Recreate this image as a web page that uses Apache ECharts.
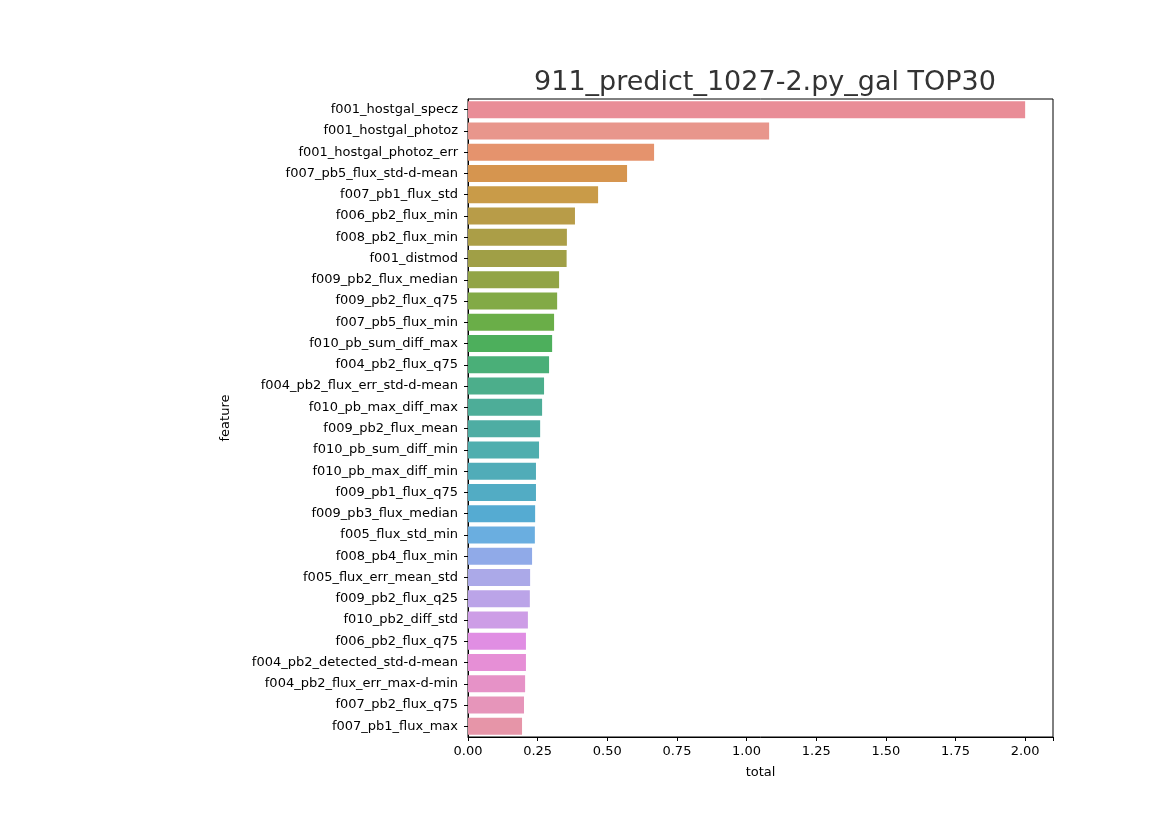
<!DOCTYPE html>
<html>
<head>
<meta charset="utf-8">
<script src="https://cdn.jsdelivr.net/npm/echarts@6/dist/echarts.min.js"></script>
<style>
  html, body { margin: 0; padding: 0; background: #fff; }
  #chart { width: 1170px; height: 827px; }
</style>
</head>
<body>
<div id="chart"></div>
<script>
const features = [
  'f001_hostgal_specz', 'f001_hostgal_photoz', 'f001_hostgal_photoz_err', 'f007_pb5_flux_std-d-mean',
  'f007_pb1_flux_std', 'f006_pb2_flux_min', 'f008_pb2_flux_min', 'f001_distmod',
  'f009_pb2_flux_median', 'f009_pb2_flux_q75', 'f007_pb5_flux_min', 'f010_pb_sum_diff_max',
  'f004_pb2_flux_q75', 'f004_pb2_flux_err_std-d-mean', 'f010_pb_max_diff_max', 'f009_pb2_flux_mean',
  'f010_pb_sum_diff_min', 'f010_pb_max_diff_min', 'f009_pb1_flux_q75', 'f009_pb3_flux_median',
  'f005_flux_std_min', 'f008_pb4_flux_min', 'f005_flux_err_mean_std', 'f009_pb2_flux_q25',
  'f010_pb2_diff_std', 'f006_pb2_flux_q75', 'f004_pb2_detected_std-d-mean', 'f004_pb2_flux_err_max-d-min',
  'f007_pb2_flux_q75', 'f007_pb1_flux_max'
]
const totals = [
  2.00, 1.081, 0.668, 0.571, 0.467, 0.384, 0.355, 0.354, 0.327, 0.320,
  0.309, 0.302, 0.291, 0.273, 0.266, 0.259, 0.255, 0.244, 0.244, 0.241,
  0.240, 0.230, 0.223, 0.222, 0.215, 0.208, 0.208, 0.205, 0.201, 0.194
]
const colors = [
  '#e98d97', '#e8968c', '#e5936d', '#d6954f', '#c99b48', '#b89c48', '#ab9e47', '#a09f46',
  '#92a446', '#82aa46', '#6aae48', '#4daf5c', '#4aaf78', '#4cae8b', '#4dad98', '#4eada3',
  '#4faeae', '#50acb8', '#52acc4', '#55abd2', '#6aaee0', '#90aae8', '#aba9e8', '#bba4e8',
  '#cd9de6', '#e08ee3', '#e68fd6', '#e692c7', '#e695ba', '#e695a8'
]
const xTicks = ['0.00', '0.25', '0.50', '0.75', '1.00', '1.25', '1.50', '1.75', '2.00']

const chart = echarts.init(document.getElementById('chart'))
chart.setOption({
  animation: false,
  textStyle: { fontFamily: 'DejaVu Sans' },
  title: {
    text: '911_predict_1027-2.py_gal TOP30',
    left: 760, top: 64, textAlign: 'center',
    textStyle: { fontSize: 27, fontWeight: 'normal', color: '#333' }
  },
  grid: { left: 468, right: 117, top: 99, bottom: 90, show: true, borderColor: '#000', borderWidth: 1 },
  xAxis: {
    type: 'value', min: 0, max: 2.1, interval: 0.25,
    name: 'total', nameLocation: 'middle', nameGap: 29,
    nameTextStyle: { fontSize: 13, color: '#000' },
    axisLine: { show: true, lineStyle: { color: '#000' } },
    axisTick: { show: true, length: 4, lineStyle: { color: '#000' } },
    splitLine: { show: false },
    axisLabel: {
      fontSize: 13, color: '#000',
      formatter: v => xTicks.includes(v.toFixed(2)) ? v.toFixed(2) : ''
    }
  },
  yAxis: {
    type: 'category', data: features, inverse: true,
    name: 'feature', nameLocation: 'middle', nameGap: 236, nameRotate: 90,
    nameTextStyle: { fontSize: 13, color: '#000' },
    axisLine: { show: true, lineStyle: { color: '#000' } },
    axisTick: { show: true, alignWithLabel: true, length: 4, lineStyle: { color: '#000' } },
    axisLabel: { fontSize: 13, color: '#000', margin: 10, interval: 0 }
  },
  series: [{
    type: 'bar',
    barCategoryGap: '20%',
    data: totals.map((v, i) => ({ value: v, itemStyle: { color: colors[i] } }))
  }]
})
</script>
</body>
</html>
